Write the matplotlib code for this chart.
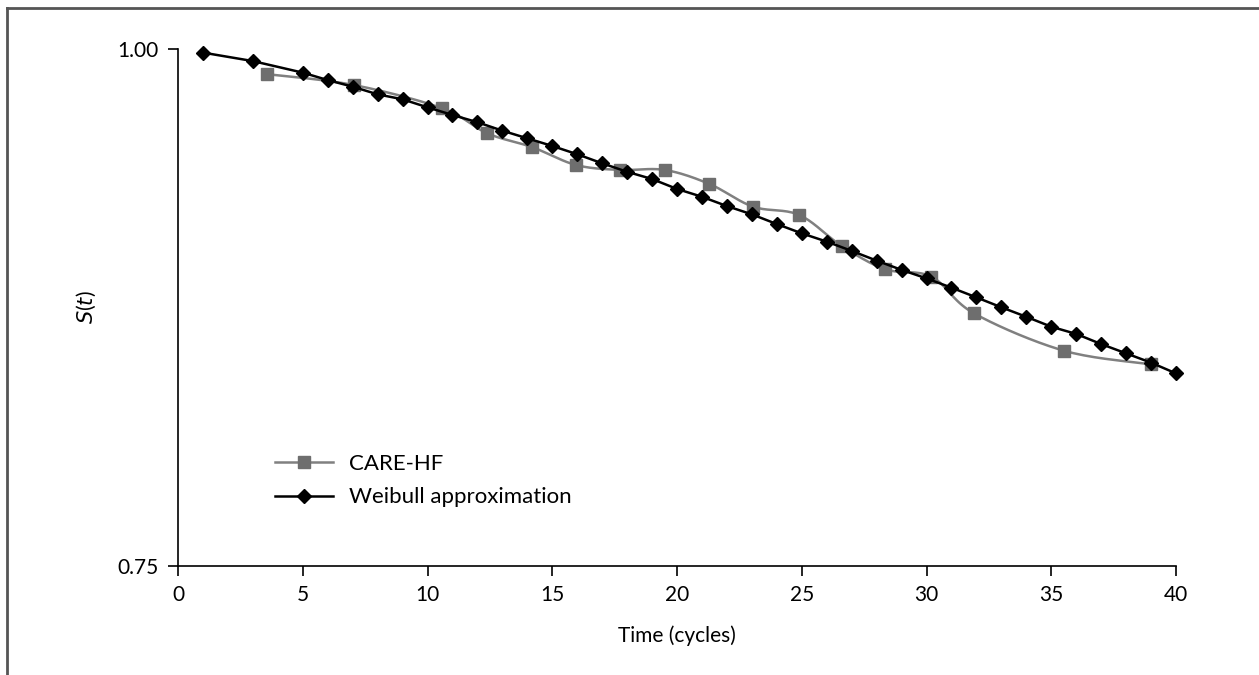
import numpy as np
import matplotlib
matplotlib.use("Agg")
import matplotlib.pyplot as plt
from matplotlib.lines import Line2D

plt.rcParams['font.family'] = ['Lato', 'DejaVu Sans']

# Data
weibull_t = [1, 3, 5, 6, 7, 8, 9, 10, 11, 12, 13, 14, 15, 16, 17, 18, 19, 20,
             21, 22, 23, 24, 25, 26, 27, 28, 29, 30, 31, 32, 33, 34, 35, 36,
             37, 38, 39, 40]
weibull_s = [0.9984, 0.9943, 0.9887, 0.9851, 0.9819, 0.9782, 0.9758, 0.9719,
             0.9682, 0.9647, 0.9606, 0.9569, 0.9532, 0.9492, 0.9448, 0.9407,
             0.9372, 0.9324, 0.9286, 0.9241, 0.9201, 0.9154, 0.9109, 0.9069,
             0.9024, 0.8977, 0.8932, 0.8891, 0.8846, 0.8799, 0.8751, 0.8705,
             0.8657, 0.8622, 0.8573, 0.8528, 0.8483, 0.8431]

care_t = [3.55, 7.05, 10.6, 12.4, 14.2, 15.95, 17.7, 19.5, 21.3, 23.05,
          24.9, 26.6, 28.35, 30.2, 31.9, 35.5, 39.0]
care_s = [0.9880, 0.9827, 0.9714, 0.9593, 0.9526, 0.9440, 0.9416, 0.9416,
          0.9348, 0.9238, 0.9198, 0.9048, 0.8935, 0.8899, 0.8722, 0.8541,
          0.8475]

x_ticks = [0, 5, 10, 15, 20, 25, 30, 35, 40]
y_ticks = [0.75, 1.00]
y_ticklabels = ['0.75', '1.00']


def smooth(x, y, n=20):
    """Catmull-Rom style smoothing for drawing the line only."""
    x = np.asarray(x, float)
    y = np.asarray(y, float)
    px = np.concatenate([[x[0]], x, [x[-1]]])
    py = np.concatenate([[y[0]], y, [y[-1]]])
    xs, ys = [], []
    for i in range(1, len(px) - 2):
        p0x, p1x, p2x, p3x = px[i - 1], px[i], px[i + 1], px[i + 2]
        p0y, p1y, p2y, p3y = py[i - 1], py[i], py[i + 1], py[i + 2]
        c1x = p1x + (p2x - p0x) / 6
        c1y = p1y + (p2y - p0y) / 6
        c2x = p2x - (p3x - p1x) / 6
        c2y = p2y - (p3y - p1y) / 6
        t = np.linspace(0, 1, n)
        bx = (1 - t) ** 3 * p1x + 3 * (1 - t) ** 2 * t * c1x + 3 * (1 - t) * t ** 2 * c2x + t ** 3 * p2x
        by = (1 - t) ** 3 * p1y + 3 * (1 - t) ** 2 * t * c1y + 3 * (1 - t) * t ** 2 * c2y + t ** 3 * p2y
        xs.append(bx)
        ys.append(by)
    return np.concatenate(xs), np.concatenate(ys)


fig = plt.figure(figsize=(12.59, 6.75), dpi=100)
ax = fig.add_axes([178 / 1259, 1 - 565.7 / 675, (1176 - 178) / 1259, (565.7 - 49.3) / 675])

gray_line = '#808080'
gray_marker = '#6e6e6e'
fs = 15

sx, sy = smooth(care_t, care_s)
ax.plot(sx, sy, color=gray_line, lw=1.8, zorder=2, clip_on=False)
ax.plot(care_t, care_s, ls='none', marker='s', ms=8.5, color=gray_marker,
        mec=gray_marker, zorder=3, clip_on=False)

ax.plot(weibull_t, weibull_s, color='black', lw=1.8, marker='D', ms=7.5,
        mfc='black', mec='black', zorder=4, clip_on=False)

ax.set_xlim(0, 40)
ax.set_ylim(0.75, 1.00)
ax.set_xticks(x_ticks)
ax.set_xticklabels([str(v) for v in x_ticks])
ax.set_yticks(y_ticks)
ax.set_yticklabels(y_ticklabels)

for s in ['top', 'right']:
    ax.spines[s].set_visible(False)
for s in ['left', 'bottom']:
    ax.spines[s].set_linewidth(1.2)
    ax.spines[s].set_color('black')
ax.tick_params(axis='both', direction='out', length=7, width=1.2, labelsize=fs, pad=7)

ax.set_xlabel('Time (cycles)', fontsize=fs)
ax.xaxis.set_label_coords(0.5, -0.115)
ax.set_ylabel(r'$S$($t$)', fontsize=fs)
ax.yaxis.set_label_coords(-0.08, 0.5)

handles = [
    Line2D([0], [0], color=gray_line, lw=1.8, marker='s', ms=8.5,
           mfc=gray_marker, mec=gray_marker),
    Line2D([0], [0], color='black', lw=1.8, marker='D', ms=7.5,
           mfc='black', mec='black'),
]
leg = fig.legend(handles, ['CARE-HF', 'Weibull approximation'],
                 loc='upper left', bbox_to_anchor=(255 / 1259, 1 - 434 / 675),
                 frameon=False, fontsize=16, handlelength=2.6,
                 handletextpad=0.75, labelspacing=0.6)

# outer frame lines (top and left)
fig.add_artist(Line2D([7 / 1259, 1.0], [1 - 7.5 / 675, 1 - 7.5 / 675],
                      transform=fig.transFigure, color='#555555', lw=2))
fig.add_artist(Line2D([7 / 1259, 7 / 1259], [0, 1 - 7.5 / 675],
                      transform=fig.transFigure, color='#555555', lw=2))

fig.savefig('out.png', dpi=100)
